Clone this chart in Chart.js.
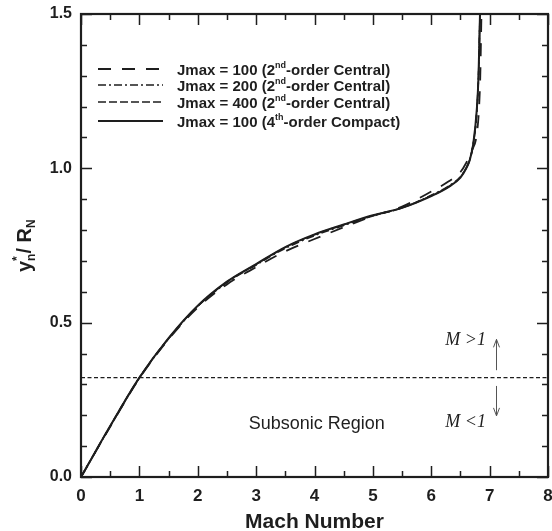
<!DOCTYPE html>
<html>
<head>
<meta charset="utf-8">
<script src="https://cdn.jsdelivr.net/npm/chart.js@4.4.1/dist/chart.umd.min.js"></script>
<style>
  html, body { margin: 0; padding: 0; background: #fff; }
  #wrap { position: relative; width: 552px; height: 531px; }
</style>
</head>
<body>
<div id="wrap"><canvas id="chart"></canvas></div>
<script>
// Jmax = 100, 2nd-order central
const machJ100c2 = [0, 0.5, 1.0, 1.5, 2.0, 2.5, 3.0, 3.5, 4.0, 4.5, 5.0, 5.5, 6.0, 6.3, 6.5, 6.6, 6.7, 6.78, 6.82, 6.84, 6.86];
const yJ100c2 = [0, 0.163, 0.320, 0.446, 0.549, 0.624, 0.680, 0.731, 0.771, 0.809, 0.845, 0.876, 0.925, 0.958, 0.988, 1.018, 1.060, 1.110, 1.200, 1.300, 1.500];
// Jmax = 200, 2nd-order central
const machJ200c2 = [0, 0.5, 1.0, 1.5, 2.0, 2.5, 3.0, 3.5, 4.0, 4.5, 5.0, 5.5, 6.0, 6.3, 6.5, 6.6, 6.66, 6.72, 6.78, 6.81, 6.835];
const yJ200c2 = [0, 0.164, 0.321, 0.448, 0.553, 0.630, 0.687, 0.741, 0.782, 0.815, 0.846, 0.872, 0.913, 0.943, 0.973, 1.002, 1.030, 1.080, 1.180, 1.300, 1.500];
// Jmax = 400, 2nd-order central
const machJ400c2 = [0, 0.5, 1.0, 1.5, 2.0, 2.5, 3.0, 3.5, 4.0, 4.5, 5.0, 5.5, 6.0, 6.3, 6.5, 6.6, 6.66, 6.72, 6.78, 6.81, 6.835];
const yJ400c2 = [0, 0.165, 0.322, 0.449, 0.554, 0.632, 0.689, 0.744, 0.785, 0.817, 0.847, 0.872, 0.911, 0.941, 0.972, 1.002, 1.028, 1.078, 1.185, 1.300, 1.500];
// Jmax = 100, 4th-order compact
const machJ100c4 = [0, 0.5, 1.0, 1.5, 2.0, 2.5, 3.0, 3.5, 4.0, 4.5, 5.0, 5.5, 6.0, 6.3, 6.5, 6.6, 6.66, 6.72, 6.78, 6.81, 6.835];
const yJ100c4 = [0, 0.165, 0.322, 0.450, 0.555, 0.633, 0.690, 0.745, 0.786, 0.818, 0.848, 0.872, 0.910, 0.940, 0.970, 1.000, 1.027, 1.080, 1.190, 1.300, 1.500];
// sonic line (M = 1)
const sonicMach = [0, 8];
const sonicY = [0.322, 0.322];

const legendLabels = [
  ["Jmax = 100 (2", "nd", "-order Central)"],
  ["Jmax = 200 (2", "nd", "-order Central)"],
  ["Jmax = 400 (2", "nd", "-order Central)"],
  ["Jmax = 100 (4", "th", "-order Compact)"]
];

const INK = "#1e1e1e";
const SANS = "'Liberation Sans', Arial, Helvetica, sans-serif";
const SERIF = "'Liberation Serif', 'Times New Roman', serif";

function pts(xs, ys) {
  return xs.map((x, i) => ({ x: x, y: ys[i] }));
}

function curve(label, xs, ys, dash, width) {
  return {
    label: label,
    data: pts(xs, ys),
    borderColor: INK,
    borderWidth: width,
    borderDash: dash,
    pointRadius: 0,
    showLine: true,
    tension: 0.4,
    cubicInterpolationMode: "monotone",
    fill: false
  };
}

// 안쪽 눈금 + 테두리
const frame = {
  id: "frame",
  afterDatasetsDraw(chart) {
    const { ctx, chartArea: a, scales: { x, y } } = chart;
    ctx.save();
    ctx.strokeStyle = INK;
    ctx.lineWidth = 1.5;
    ctx.beginPath();
    for (let v = 0; v <= 8.001; v += 0.5) {
      const px = Math.round(x.getPixelForValue(v)) + 0.5;
      const len = Math.abs(v - Math.round(v)) < 1e-6 ? 11 : 6;
      ctx.moveTo(px, a.bottom); ctx.lineTo(px, a.bottom - len);
      ctx.moveTo(px, a.top); ctx.lineTo(px, a.top + len);
    }
    for (let i = 0; i <= 15; i++) {
      const v = i / 10;
      const py = Math.round(y.getPixelForValue(v)) + 0.5;
      const len = i % 5 === 0 ? 11 : 6;
      ctx.moveTo(a.left, py); ctx.lineTo(a.left + len, py);
      ctx.moveTo(a.right, py); ctx.lineTo(a.right - len, py);
    }
    ctx.stroke();
    ctx.lineWidth = 2.2;
    ctx.strokeRect(a.left, a.top, a.right - a.left, a.bottom - a.top);
    ctx.restore();
  }
};

// 범례 (위첨자 포함)
const legendBox = {
  id: "legendBox",
  afterDraw(chart) {
    const { ctx } = chart;
    const rows = [69, 85, 102, 121];
    ctx.save();
    chart.data.datasets.slice(0, 4).forEach((ds, i) => {
      const ry = rows[i];
      ctx.strokeStyle = INK;
      ctx.lineWidth = ds.borderWidth;
      ctx.setLineDash(ds.borderDash);
      ctx.beginPath();
      ctx.moveTo(98, ry); ctx.lineTo(163, ry);
      ctx.stroke();
      ctx.setLineDash([]);
      const [a, sup, b] = legendLabels[i];
      ctx.fillStyle = INK;
      ctx.textBaseline = "alphabetic";
      ctx.font = "bold 15px " + SANS;
      let tx = 177;
      const base = ry + 5.5;
      ctx.fillText(a, tx, base);
      tx += ctx.measureText(a).width;
      ctx.font = "bold 9px " + SANS;
      ctx.fillText(sup, tx, base - 6.5);
      tx += ctx.measureText(sup).width;
      ctx.font = "bold 15px " + SANS;
      ctx.fillText(b, tx, base);
    });
    ctx.restore();
  }
};

// 축 제목(y), 주석, 화살표
const notes = {
  id: "notes",
  afterDraw(chart) {
    const { ctx, scales: { x, y } } = chart;
    ctx.save();
    ctx.fillStyle = INK;

    // y axis title: y*_n / R_N
    ctx.translate(31, 272);
    ctx.rotate(-Math.PI / 2);
    ctx.textBaseline = "alphabetic";
    let tx = 0;
    ctx.font = "bold 20px " + SANS;
    ctx.fillText("y", tx, 0);
    tx += ctx.measureText("y").width;
    ctx.font = "bold 12px " + SANS;
    ctx.fillText("*", tx, -10);
    ctx.fillText("n", tx, 4);
    tx += ctx.measureText("n").width;
    ctx.font = "bold 20px " + SANS;
    ctx.fillText("/ R", tx, 0);
    tx += ctx.measureText("/ R").width;
    ctx.font = "bold 12px " + SANS;
    ctx.fillText("N", tx, 4);
    ctx.setTransform(1, 0, 0, 1, 0, 0);

    // Subsonic Region
    ctx.font = "18px " + SANS;
    ctx.textAlign = "center";
    ctx.textBaseline = "middle";
    ctx.fillText("Subsonic Region", x.getPixelForValue(4.04), y.getPixelForValue(0.172));

    // M >1 / M <1
    ctx.font = "italic 18px " + SERIF;
    ctx.textAlign = "left";
    ctx.fillText("M >1", x.getPixelForValue(6.24), y.getPixelForValue(0.444));
    ctx.fillText("M <1", x.getPixelForValue(6.24), y.getPixelForValue(0.178));

    // arrows
    const ax = Math.round(x.getPixelForValue(7.11)) + 0.5;
    ctx.strokeStyle = "#555";
    ctx.lineWidth = 1;
    const up0 = y.getPixelForValue(0.346), up1 = y.getPixelForValue(0.446);
    const dn0 = y.getPixelForValue(0.295), dn1 = y.getPixelForValue(0.198);
    ctx.beginPath();
    ctx.moveTo(ax, up0); ctx.lineTo(ax, up1);
    ctx.moveTo(ax - 3, up1 + 8); ctx.lineTo(ax, up1); ctx.lineTo(ax + 3, up1 + 8);
    ctx.moveTo(ax, dn0); ctx.lineTo(ax, dn1);
    ctx.moveTo(ax - 3, dn1 - 8); ctx.lineTo(ax, dn1); ctx.lineTo(ax + 3, dn1 - 8);
    ctx.stroke();
    ctx.restore();
  }
};

const ctx = document.getElementById("chart").getContext("2d");
new Chart(ctx, {
  type: "scatter",
  data: {
    datasets: [
      curve("Jmax = 100 (2nd-order Central)", machJ100c2, yJ100c2, [13, 11], 1.8),
      curve("Jmax = 200 (2nd-order Central)", machJ200c2, yJ200c2, [8, 3, 2, 3], 1.6),
      curve("Jmax = 400 (2nd-order Central)", machJ400c2, yJ400c2, [8, 3], 1.6),
      curve("Jmax = 100 (4th-order Compact)", machJ100c4, yJ100c4, [], 2),
      {
        label: "M = 1",
        data: pts(sonicMach, sonicY),
        borderColor: INK,
        borderWidth: 1.2,
        borderDash: [4, 2.5],
        pointRadius: 0,
        showLine: true,
        tension: 0
      }
    ]
  },
  options: {
    responsive: true,
    maintainAspectRatio: false,
    animation: false,
    layout: { padding: { top: 14, right: 4, bottom: 0, left: 0 } },
    plugins: {
      legend: { display: false },
      tooltip: { enabled: false }
    },
    scales: {
      x: {
        type: "linear",
        min: 0,
        max: 8,
        grid: { display: false, drawTicks: false },
        border: { display: false },
        ticks: {
          stepSize: 1,
          padding: 9,
          color: INK,
          font: { family: SANS, size: 17, weight: "bold" }
        },
        title: {
          display: true,
          text: "Mach Number",
          color: INK,
          padding: 0,
          font: { family: SANS, size: 21, weight: "bold", lineHeight: 0.85 }
        },
        afterFit(scale) {
          scale.height = 54;
          scale.paddingLeft = 0;
          scale.paddingRight = 0;
        }
      },
      y: {
        type: "linear",
        min: 0,
        max: 1.5,
        grid: { display: false, drawTicks: false },
        border: { display: false },
        ticks: {
          stepSize: 0.5,
          padding: 9,
          color: INK,
          font: { family: SANS, size: 16, weight: "bold" },
          callback: (v) => v.toFixed(1)
        },
        afterFit(scale) {
          scale.width = 81;
          scale.paddingTop = 0;
          scale.paddingBottom = 0;
        }
      }
    }
  },
  plugins: [frame, legendBox, notes]
});
</script>
</body>
</html>
